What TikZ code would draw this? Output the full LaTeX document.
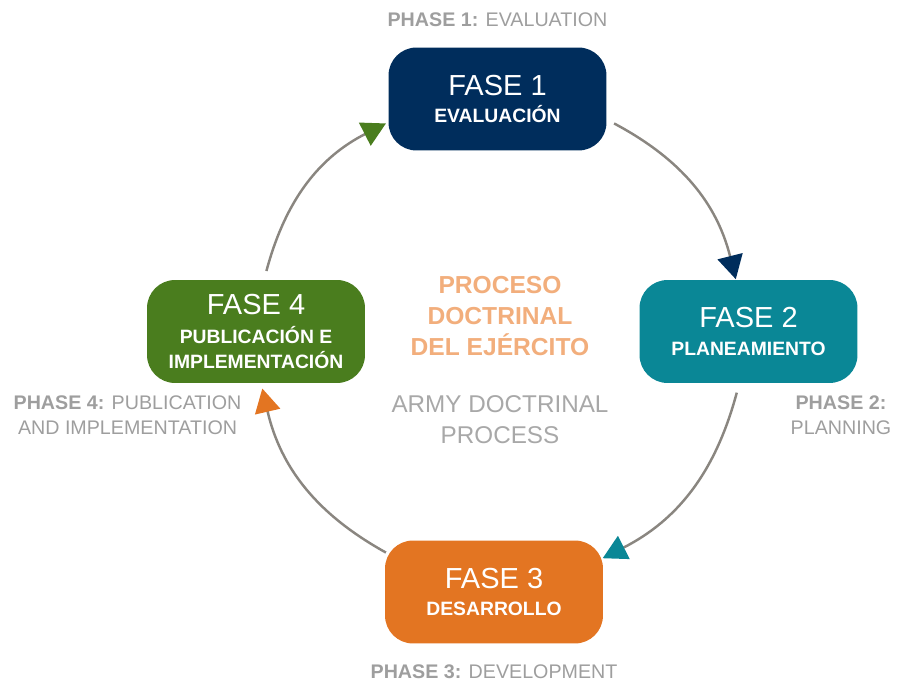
\documentclass[tikz,border=0pt]{standalone}
\usepackage{fontspec}
\setmainfont{Liberation Sans}
\usetikzlibrary{positioning}
\usetikzlibrary{calc}
\usetikzlibrary{arrows.meta}
\definecolor{fnavy}{HTML}{002D5C}
\definecolor{fteal}{HTML}{0A8796}
\definecolor{forange}{HTML}{E37522}
\definecolor{fgreen}{HTML}{4A7D1E}
\definecolor{arcgray}{HTML}{8A8680}
\definecolor{phgray}{HTML}{9E9E9E}
\definecolor{procorange}{HTML}{F2AE7C}
\definecolor{armygray}{HTML}{A8A8A8}
\tikzset{fase/.style={rounded corners=0.56cm, minimum width=4.36cm, minimum height=2.06cm, inner sep=0pt, text=white, align=center, font=\fontsize{16.5}{14}\selectfont}}
\tikzset{phase/.style={text=phgray, align=center, font=\fontsize{11.2}{14.5}\selectfont}}
\tikzset{ciclo/.style={line width=1.4pt, draw=arcgray, bend left=24}}
\newcommand{\subt}{\bfseries\fontsize{11}{14.2}\selectfont}

\begin{document}
\begin{tikzpicture}[x=0.02cm, y=0.02cm]
\useasboundingbox (0,0) rectangle (906,683);
\begin{scope}[on grid]

\node[fase, fill=fnavy] (f1) at (497.5, 584) {FASE 1\\[1.5pt]\subt EVALUACIÓN};
\node[fase, fill=fteal] (f2) at (748.5, 351.5) {FASE 2\\[1.5pt]\subt PLANEAMIENTO};
\node[fase, fill=forange] (f3) at (494, 91) {FASE 3\\[1.5pt]\subt DESARROLLO};
\node[fase, fill=fgreen] (f4) at (256, 351.5) {FASE 4\\[2.5pt]\subt PUBLICACIÓN E\\\subt IMPLEMENTACIÓN};

\node[phase] (ph1) [above=1.58cm of f1] {\textbf{PHASE 1:} EVALUATION};
\node[phase] (ph2) [below right=1.67cm and 1.85cm of f2] {\textbf{PHASE 2:}\\PLANNING};
\node[phase] (ph3) [below=1.6cm of f3] {\textbf{PHASE 3:} DEVELOPMENT};
\node[phase] (ph4) [below left=1.67cm and 2.57cm of f4] {\textbf{PHASE 4:} PUBLICATION\\AND IMPLEMENTATION};

\node[text=procorange, align=center, font=\bfseries\fontsize{14}{17.6}\selectfont] (proc) at (500, 367) {PROCESO\\DOCTRINAL\\DEL EJÉRCITO};
\node[text=armygray, align=center, font=\fontsize{13.8}{17.6}\selectfont] (army) at (500, 263.5) {ARMY DOCTRINAL\\PROCESS};

% points on the cycle
\coordinate (c) at (500, 345);
\coordinate (a1) at ([shift={(62:243)}]c);
\coordinate (b1) at ([shift={(14:243)}]c);
\coordinate (a2) at ([shift={(-13:243)}]c);
\coordinate (b2) at ([shift={(-65:243)}]c);
\coordinate (a3) at ([shift={(-118:243)}]c);
\coordinate (b3) at ([shift={(-168:243)}]c);
\coordinate (a4) at ([shift={(164:243)}]c);
\coordinate (b4) at ([shift={(118:243)}]c);

\draw[ciclo, -{Triangle[length=13.5pt, width=14.5pt, color=fnavy]}] (a1) to (b1);
\draw[ciclo, -{Triangle[length=13.5pt, width=14.5pt, color=fteal]}] (a2) to (b2);
\draw[ciclo, -{Triangle[length=13.5pt, width=14.5pt, color=forange]}] (a3) to (b3);
\draw[ciclo, -{Triangle[length=13.5pt, width=14.5pt, color=fgreen]}] (a4) to (b4);

\end{scope}
\end{tikzpicture}
\end{document}
